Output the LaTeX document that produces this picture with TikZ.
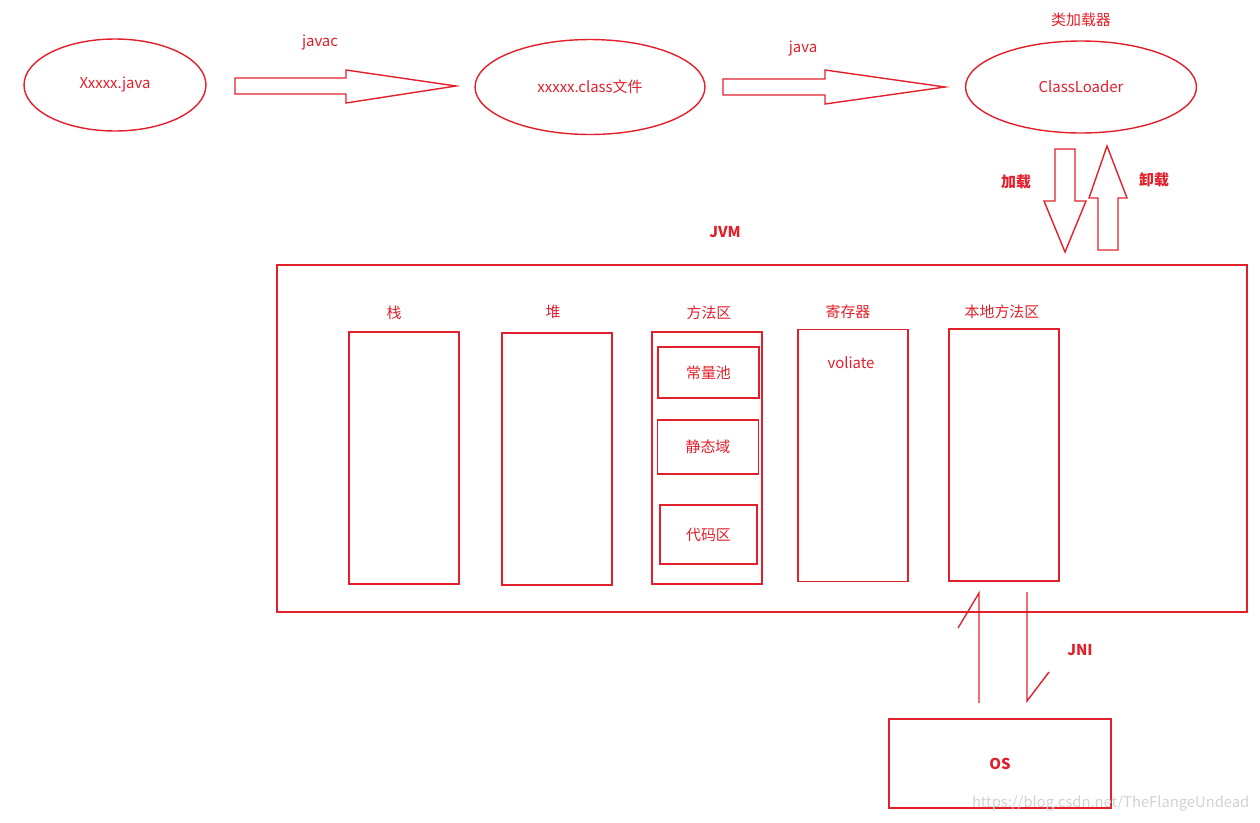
\documentclass[tikz,border=0pt]{standalone}
\usepackage{fontspec}
\setmainfont{Noto Sans CJK SC}
\usepackage{tikz}
\usetikzlibrary{shapes.geometric,positioning}
\definecolor{jvmred}{RGB}{226,32,44}

\begin{document}
\begin{tikzpicture}[
    x=0.02cm, y=-0.02cm,
    line width=0.8pt,
    txt/.style={font=\fontsize{8.5}{10}\selectfont, text=jvmred, inner sep=1pt},
    boldtxt/.style={font=\fontsize{8.5}{10}\selectfont\bfseries, text=jvmred,
                    inner sep=1pt},
    fileell/.style={ellipse, draw=jvmred, txt, minimum height=1.84cm},
    areabox/.style={draw=jvmred, minimum width=2.2cm, minimum height=5.04cm,
                    inner sep=0pt},
    subbox/.style={draw=jvmred, txt, minimum width=2.02cm},
    blockarrow/.style={draw=jvmred, line join=miter},
    jniline/.style={draw=jvmred},
  ]
    \useasboundingbox (0,0) rectangle (1260,822);

    % (a) Compile and load
    \node[fileell, minimum width=3.64cm] (src) at (115,85) {Xxxxx.java};
    \node[fileell, minimum width=4.6cm, minimum height=1.9cm] (cls) at (590,87)
          {xxxxx.class文件};
    \node[fileell, minimum width=4.62cm] (loader) at (1081,87) {ClassLoader};
    \node[txt] (loaderlbl) at (1081,20) {类加载器};

    \draw[blockarrow] (235,78) -- (346,78) -- (346,70) -- (456,86)
          -- (346,103) -- (346,94) -- (235,94) -- cycle;
    \node[txt] (javaclbl) at (320,43) {javac};
    \draw[blockarrow] (723,79) -- (825,79) -- (825,70) -- (945,87)
          -- (825,104) -- (825,95) -- (723,95) -- cycle;
    \node[txt] (javalbl) at (803,49) {java};

    % load / unload
    \draw[blockarrow] (1055,149) -- (1075,149) -- (1075,201) -- (1086,201)
          -- (1065,252) -- (1044,201) -- (1055,201) -- cycle;
    \draw[blockarrow] (1098,250) -- (1118,250) -- (1118,198) -- (1127,198)
          -- (1107,146) -- (1089,198) -- (1098,198) -- cycle;
    \node[boldtxt] (loadlbl) at (1016,182) {加载};
    \node[boldtxt] (unloadlbl) at (1154,180) {卸载};

    % (b) JVM runtime areas
    \node[boldtxt] (jvmlbl) at (725,232) {JVM};
    \node[draw=jvmred, minimum width=19.4cm, minimum height=6.94cm] (jvm)
          at (762,438.5) {};

    \node[areabox] (stack) at (404,458) {};
    \node[txt] at (394,313) {栈};
    \node[areabox] (heap) at (557,459) {};
    \node[txt] at (553,312) {堆};
    \node[areabox] (method) at (707,458) {};
    \node[txt] at (709,313) {方法区};
    \node[areabox] (reg) at (853,455.5) {};
    \node[txt] at (848,312) {寄存器};
    \node[txt] (voliate) at (851,363) {voliate};
    \node[areabox] (natlib) at (1004,455) {};
    \node[txt] at (1002,312) {本地方法区};

    \node[subbox, minimum height=1.02cm] (pool) at (708.5,372.5) {常量池};
    \node[subbox, minimum height=1.08cm] (static) at (708,447) {静态域};
    \node[subbox, minimum width=1.94cm, minimum height=1.18cm] (code)
          at (708.5,534.5) {代码区};

    % (c) JNI and OS
    \node[draw=jvmred, minimum width=4.44cm, minimum height=1.78cm,
          boldtxt] (os) at (1000,763.5) {OS};
    \coordinate (jniup0) at (979,703);
    \coordinate (jniup1) at (979,593);
    \coordinate (jnidn0) at (1027,592);
    \coordinate (jnidn1) at (1027,701);
    \draw[jniline] (jniup0) -- (jniup1) -- ++(-21,35);
    \draw[jniline] (jnidn0) -- (jnidn1) -- ++(22,-29);
    \node[boldtxt] (jnilbl) at (1080,650) {JNI};

    \node[font=\fontsize{8.4}{10}\selectfont, text=gray!35, anchor=east,
          inner sep=0pt] (mark) at (1250,803)
          {https://blog.csdn.net/TheFlangeUndead};
  \end{tikzpicture}
\end{document}
